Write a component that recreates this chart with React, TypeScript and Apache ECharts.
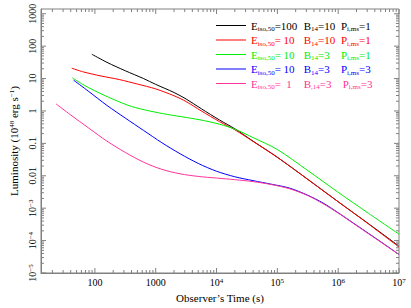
import React, { useEffect, useRef } from 'react';
import * as echarts from 'echarts';

const FONT = '"Liberation Serif", "DejaVu Serif", serif';
const FRAME = '#808080';

// Legend / series descriptors
const seriesNames = ['E100 B10 P1', 'E10 B10 P1', 'E10 B3 P1', 'E10 B3 P3', 'E1 B3 P3'];
const seriesColors = ['#000000', '#ff0000', '#00ee00', '#0000ff', '#ff3399'];
const eValues = ['100', ' 10', ' 10', ' 10', '  1'];
const bSubs = ['14', '14', '14', '14', ',14'];
const bValues = ['10', '10', '3', '3', '3'];
const pValues = ['1', '1', '1', '3', '3'];

// Series data (time in s, luminosity in 1e48 erg/s)
const blackTime = [89.1, 158, 316, 631, 1000, 1995, 3162, 5623, 11220, 19953, 39811, 1e5, 316228, 1e6, 3.162e6, 1e7];
const blackLum = [56.2, 31.6, 17.4, 10, 6.61, 3.72, 2.34, 1.17, 0.525, 0.282, 0.117, 0.0372, 0.00776, 0.00158, 3.31e-4, 6.76e-5];

const redTime = [41.7, 63.1, 126, 251, 501, 1000, 1995, 3162, 5623, 11220, 19953, 39811, 1e5, 316228, 1e6, 3.162e6, 1e7];
const redLum = [20.9, 16.2, 12.0, 9.33, 6.76, 4.79, 2.95, 1.95, 1.0, 0.468, 0.263, 0.115, 0.0372, 0.00776, 0.00158, 3.24e-4, 6.31e-5];

const greenTime = [42.7, 63.1, 100, 200, 398, 794, 1585, 3162, 6310, 11220, 19953, 39811, 1e5, 316228, 1e6, 3.162e6, 1e7];
const greenLum = [10.5, 6.61, 4.17, 2.29, 1.38, 1.0, 0.776, 0.631, 0.501, 0.389, 0.275, 0.151, 0.0646, 0.0145, 0.00309, 6.92e-4, 1.58e-4];

const blueTime = [44.7, 79.4, 158, 316, 631, 1259, 2512, 5012, 1e4, 19953, 39811, 79433, 158489, 316228, 562341, 1e6, 1.778e6, 3.162e6, 5.62e6, 1e7];
const blueLum = [8.91, 3.98, 1.48, 0.603, 0.251, 0.105, 0.0479, 0.024, 0.0138, 0.00933, 0.00708, 0.0055, 0.00417, 0.00251, 0.00145, 7.24e-4, 3.47e-4, 1.66e-4, 7.94e-5, 3.72e-5];

const pinkTime = [22.9, 39.8, 79.4, 158, 316, 631, 1259, 2512, 5012, 1e4, 19953, 39811, 79433, 158489, 316228, 562341, 1e6, 1.778e6, 3.162e6, 5.62e6, 1e7];
const pinkLum = [1.66, 0.759, 0.295, 0.117, 0.0525, 0.0263, 0.0158, 0.0115, 0.00955, 0.00851, 0.00759, 0.00661, 0.00537, 0.00398, 0.00245, 0.00138, 7.08e-4, 3.39e-4, 1.62e-4, 7.76e-5, 3.72e-5];

const allTimes = [blackTime, redTime, greenTime, blueTime, pinkTime];
const allLums = [blackLum, redLum, greenLum, blueLum, pinkLum];

// Axis ranges and tick labels
const xMin = 13;
const xMax = 1e7;
const yMin = 1e-5;
const yMax = 1400;
const xTickExps = [2, 3, 4, 5, 6, 7];
const xTickTexts = ['100', '1000', '10{sup|4}', '10{sup|5}', '10{sup|6}', '10{sup|7}'];
const yTickExps = [-5, -4, -3, -2, -1, 0, 1, 2, 3];
const yTickTexts = ['10{sup|−5}', '10{sup|−4}', '10{sup|−3}', '0.01', '0.1', '1', '10', '100', '1000'];

const xTickDecades = [1, 2, 3, 4, 5, 6];
const yTickDecades = [-5, -4, -3, -2, -1, 0, 1, 2];
const multipliers = [1, 2, 3, 4, 5, 6, 7, 8, 9];

function labelFor(v: number, exps: number[], texts: string[]) {
  const lg = Math.log10(v);
  const r = Math.round(lg);
  if (Math.abs(lg - r) > 1e-6) return '';
  const i = exps.indexOf(r);
  return i >= 0 ? texts[i] : '';
}

export default function App() {
  const ref = useRef<HTMLDivElement>(null);
  useEffect(() => {
    if (!ref.current) return;
    const chart = echarts.init(ref.current, undefined, { renderer: 'svg' });

    const xTickData: number[][] = [];
    xTickDecades.forEach((d) => {
      multipliers.forEach((m) => {
        const v = m * Math.pow(10, d);
        if (v >= xMin && v <= xMax) xTickData.push([v, 1, m === 1 ? 1 : 0]);
      });
    });
    xTickData.push([xMax, 1, 1]);
    const yTickData: number[][] = [];
    yTickDecades.forEach((d) => {
      multipliers.forEach((m) => {
        const v = m * Math.pow(10, d);
        if (v >= yMin && v <= yMax) yTickData.push([100, v, m === 1 ? 1 : 0]);
      });
    });
    yTickData.push([100, 1000, 1]);
    const yLabelData = yTickExps.map((e, i) => [100, Math.pow(10, e), i]);

    const rich: any = {};
    seriesColors.forEach((c, i) => {
      const base = { color: c, fontSize: 11, fontFamily: FONT, fontWeight: 'normal', lineHeight: 14 };
      rich['m' + i] = base;
      rich['s' + i] = { color: c, fontSize: 7, fontFamily: FONT, fontWeight: 'normal', lineHeight: 8, verticalAlign: 'bottom' };
      rich['a' + i] = { ...base, width: 29 };
      rich['b' + i] = { ...base, width: 23 };
    });

    const supRich = {
      sup: { fontSize: 7, fontFamily: FONT, fontWeight: 'normal', color: '#000', verticalAlign: 'top', lineHeight: 8 },
    };

    const lineSeries = seriesNames.map((name, i) => ({
      type: 'line',
      name,
      data: allTimes[i].map((t, k) => [t, allLums[i][k]]),
      showSymbol: false,
      symbol: 'none',
      smooth: 0.3,
      lineStyle: { color: seriesColors[i], width: 1 },
      itemStyle: { color: seriesColors[i] },
      z: 3,
    }));

    const tickStyle = { stroke: FRAME, lineWidth: 1 };

    chart.setOption({
      animation: false,
      backgroundColor: '#ffffff',
      grid: {
        left: 36,
        right: 12,
        top: 9,
        bottom: 30,
        show: true,
        borderColor: FRAME,
        borderWidth: 1,
      },
      legend: {
        orient: 'vertical',
        left: 211,
        top: 15,
        itemWidth: 30,
        itemHeight: 1,
        itemGap: 2,
        icon: 'rect',
        data: seriesNames,
        selectedMode: false,
        formatter: (name: string) => {
          const i = seriesNames.indexOf(name);
          return `{m${i}|E}{s${i}|iso,50}{a${i}|=${eValues[i]}}{m${i}|B}{s${i}|${bSubs[i]}}{b${i}|=${bValues[i]}}{m${i}|P}{s${i}|i,ms}{m${i}|=${pValues[i]}}`;
        },
        textStyle: { fontFamily: FONT, fontSize: 11, fontWeight: 'normal', rich },
      },
      xAxis: {
        type: 'log',
        min: xMin,
        max: xMax,
        name: 'Observer’s Time (s)',
        nameLocation: 'middle',
        nameGap: 19,
        nameTextStyle: { fontFamily: FONT, fontSize: 11, fontWeight: 'normal', color: '#000' },
        axisLine: { show: true, lineStyle: { color: FRAME } },
        axisTick: { show: false },
        splitLine: { show: false },
        axisLabel: {
          margin: 4,
          fontFamily: FONT,
          fontSize: 10,
          fontWeight: 'normal',
          color: '#000',
          showMinLabel: false,
          formatter: (v: number) => labelFor(v, xTickExps, xTickTexts),
          rich: supRich,
        },
      },
      yAxis: {
        type: 'log',
        min: yMin,
        max: yMax,
        name: 'Luminosity (10{sup|48} erg s{sup|−1})',
        nameLocation: 'middle',
        nameGap: 22,
        nameTextStyle: { fontFamily: FONT, fontSize: 11, fontWeight: 'normal', color: '#000', rich: supRich },
        axisLine: { show: true, lineStyle: { color: FRAME } },
        axisTick: { show: false },
        splitLine: { show: false },
        axisLabel: { show: false },
      },
      series: [
        ...lineSeries,
        {
          type: 'custom',
          name: 'xticks',
          silent: true,
          clip: false,
          data: xTickData,
          encode: { x: 0, y: 1 },
          z: 5,
          renderItem: (params: any, api: any) => {
            const cs = params.coordSys;
            const p = api.coord([api.value(0), 1]);
            const len = api.value(2) ? 5 : 3;
            const bottom = cs.y + cs.height;
            return {
              type: 'group',
              children: [
                { type: 'line', shape: { x1: p[0], y1: bottom, x2: p[0], y2: bottom - len }, style: tickStyle },
                { type: 'line', shape: { x1: p[0], y1: cs.y, x2: p[0], y2: cs.y + len }, style: tickStyle },
              ],
            };
          },
        },
        {
          type: 'custom',
          name: 'yticks',
          silent: true,
          clip: false,
          data: yTickData,
          encode: { x: 0, y: 1 },
          z: 5,
          renderItem: (params: any, api: any) => {
            const cs = params.coordSys;
            const p = api.coord([100, api.value(1)]);
            const len = api.value(2) ? 5 : 3;
            const right = cs.x + cs.width;
            return {
              type: 'group',
              children: [
                { type: 'line', shape: { x1: cs.x, y1: p[1], x2: cs.x + len, y2: p[1] }, style: tickStyle },
                { type: 'line', shape: { x1: right, y1: p[1], x2: right - len, y2: p[1] }, style: tickStyle },
              ],
            };
          },
        },
        {
          type: 'custom',
          name: 'ylabels',
          silent: true,
          clip: false,
          data: yLabelData,
          encode: { x: 0, y: 1 },
          z: 5,
          renderItem: (params: any, api: any) => {
            const cs = params.coordSys;
            const p = api.coord([100, api.value(1)]);
            const idx = api.value(2);
            return {
              type: 'text',
              x: cs.x - 9,
              y: p[1],
              rotation: Math.PI / 2,
              style: {
                text: yTickTexts[idx],
                fontFamily: FONT,
                fontSize: 10,
                fontWeight: 'normal',
                fill: '#000',
                align: 'center',
                verticalAlign: 'middle',
                rich: supRich,
              },
            };
          },
        },
      ],
    });
    return () => chart.dispose();
  }, []);
  return <div ref={ref} style={{ width: 411, height: 308, position: 'absolute', left: 0, top: 0 }} />;
}
